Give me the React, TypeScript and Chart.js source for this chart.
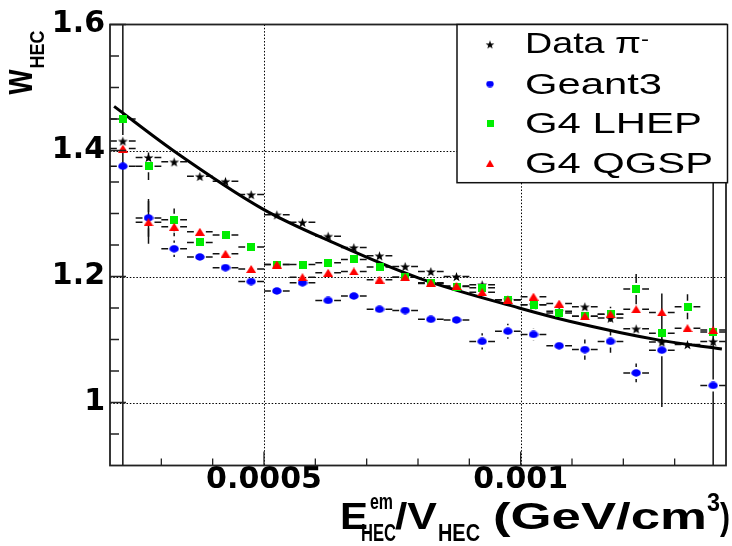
import React, { useEffect, useRef } from 'react';
import { Chart, registerables } from 'chart.js';

Chart.register(...registerables);

// ---- data ----
const binCenters = [
  0.000225, 0.000275, 0.000325, 0.000375, 0.000425, 0.000475, 0.000525, 0.000575,
  0.000625, 0.000675, 0.000725, 0.000775, 0.000825, 0.000875, 0.000925, 0.000975,
  0.001025, 0.001075, 0.001125, 0.001175, 0.001225, 0.001275, 0.001325, 0.001375,
];
const binHalfWidth = 0.000025;

const dataPi = [1.415, 1.389, 1.382, 1.359, 1.351, 1.33, 1.298, 1.286, 1.264, 1.246, 1.233, 1.216,
  1.208, 1.2, 1.187, 1.163, 1.155, 1.145, 1.152, 1.134, 1.117, 1.096, 1.092, 1.097];
const dataPiErr = [0.6, 0.005, 0.005, 0.005, 0.005, 0.005, 0.005, 0.005, 0.005, 0.005, 0.005, 0.005,
  0.005, 0.005, 0.005, 0.005, 0.005, 0.005, 0.006, 0.006, 0.006, 0.006, 0.006, 0.006];

const geant3 = [1.375, 1.293, 1.244, 1.231, 1.214, 1.192, 1.177, 1.19, 1.162, 1.169, 1.148, 1.146,
  1.132, 1.131, 1.097, 1.113, 1.108, 1.09, 1.084, 1.097, 1.047, 1.083, null, 1.027];
const geant3Err = [0.005, 0.03, 0.013, 0.005, 0.005, 0.005, 0.005, 0.005, 0.005, 0.005, 0.005, 0.005,
  0.005, 0.005, 0.013, 0.012, 0.01, 0.006, 0.016, 0.018, 0.015, 0.09, 0, 0.6];

const g4lhep = [1.45, 1.375, 1.29, 1.254, 1.266, 1.247, 1.219, 1.219, 1.222, 1.227, 1.215, 1.199,
  1.189, 1.184, 1.182, 1.163, 1.155, 1.142, 1.137, 1.14, 1.18, 1.11, 1.152, 1.112];
const g4lhepErr = [0.005, 0.022, 0.018, 0.005, 0.005, 0.005, 0.005, 0.005, 0.005, 0.005, 0.005, 0.005,
  0.005, 0.005, 0.008, 0.005, 0.005, 0.006, 0.006, 0.012, 0.024, 0.008, 0.02, 0.006];

const g4qgsp = [1.403, 1.286, 1.279, 1.271, 1.236, 1.212, 1.219, 1.199, 1.206, 1.208, 1.195, 1.199,
  1.19, 1.185, 1.175, 1.163, 1.168, 1.157, 1.137, 1.14, 1.148, 1.143, 1.118, 1.115];
const g4qgspErr = [0.005, 0.034, 0.015, 0.005, 0.005, 0.005, 0.005, 0.005, 0.005, 0.005, 0.005, 0.005,
  0.005, 0.005, 0.006, 0.005, 0.005, 0.006, 0.006, 0.006, 0.008, 0.006, 0.008, 0.006];

const fitX = [0.000208, 0.000323, 0.000498, 0.000634, 0.000803, 0.000997, 0.001095, 0.00127, 0.001392];
const fitY = [1.47, 1.4, 1.307, 1.254, 1.197, 1.15, 1.129, 1.099, 1.085];

const xTickValues = [0.0005, 0.001];
const xTickLabels = ['0.0005', '0.001'];
const yTickValues = [1, 1.2, 1.4, 1.6];
const yTickLabels = ['1', '1.2', '1.4', '1.6'];
const xMinorTicks = [0.0003, 0.0004, 0.0006, 0.0007, 0.0008, 0.0009, 0.0011, 0.0012, 0.0013];
const yMinorTicks = [0.95, 1.05, 1.1, 1.15, 1.25, 1.3, 1.35, 1.45, 1.5, 1.55];
const xGridValues = [0.0005, 0.001];
const yGridValues = [1, 1.2, 1.4];

const seriesNames = ['Data π', 'Geant3', 'G4 LHEP', 'G4 QGSP'];

// ---- marker images ----
function makeStar(outer: number, inner: number, color: string) {
  const s = Math.ceil(outer * 2) + 2;
  const c = document.createElement('canvas');
  c.width = s; c.height = s;
  const g = c.getContext('2d')!;
  g.fillStyle = color;
  g.beginPath();
  for (let i = 0; i < 10; i++) {
    const r = i % 2 === 0 ? outer : inner;
    const a = -Math.PI / 2 + (i * Math.PI) / 5;
    const px = s / 2 + r * Math.cos(a);
    const py = s / 2 + 0.6 + r * Math.sin(a);
    if (i === 0) g.moveTo(px, py); else g.lineTo(px, py);
  }
  g.closePath();
  g.fill();
  return c;
}
function makeEllipse(w: number, h: number, color: string) {
  const c = document.createElement('canvas');
  c.width = w; c.height = h;
  const g = c.getContext('2d')!;
  g.fillStyle = color;
  g.beginPath();
  g.ellipse(w / 2, h / 2, w / 2 - 0.3, h / 2 - 0.3, 0, 0, Math.PI * 2);
  g.fill();
  return c;
}
function makeSquare(w: number, h: number, color: string) {
  const c = document.createElement('canvas');
  c.width = w; c.height = h;
  const g = c.getContext('2d')!;
  g.fillStyle = color;
  g.fillRect(0, 0, w, h);
  return c;
}
function makeTriangle(w: number, h: number, color: string) {
  const c = document.createElement('canvas');
  c.width = w; c.height = h;
  const g = c.getContext('2d')!;
  g.fillStyle = color;
  g.beginPath();
  g.moveTo(w / 2, 0);
  g.lineTo(w, h);
  g.lineTo(0, h);
  g.closePath();
  g.fill();
  return c;
}

function fitText(ctx: CanvasRenderingContext2D, text: string, font: string, x0: number, x1: number, baseline: number) {
  ctx.font = font;
  const w = ctx.measureText(text).width;
  const sx = (x1 - x0) / w;
  ctx.save();
  ctx.translate(x0, baseline);
  ctx.scale(sx, 1);
  ctx.textAlign = 'left';
  ctx.textBaseline = 'alphabetic';
  ctx.fillText(text, 0, 0);
  ctx.restore();
}

export default function App() {
  const ref = useRef<HTMLCanvasElement>(null);

  useEffect(() => {
    const canvas = ref.current!;
    const BLUE = '#0000ff';
    const GREEN = '#00ee00';
    const RED = '#ff0000';

    const mStar = makeStar(5.2, 2.1, '#000');
    const mCircle = makeEllipse(10, 8, BLUE);
    const mSquare = makeSquare(8, 8, GREEN);
    const mTri = makeTriangle(10, 8, RED);
    const lStar = makeStar(4.6, 1.8, '#000');
    const lCircle = makeEllipse(8, 7, BLUE);
    const lSquare = makeSquare(7, 7, GREEN);
    const lTri = makeTriangle(8, 7, RED);

    const series = [
      { vals: dataPi, errs: dataPiErr },
      { vals: geant3, errs: geant3Err },
      { vals: g4lhep, errs: g4lhepErr },
      { vals: g4qgsp, errs: g4qgspErr },
    ];

    const toPts = (vals: (number | null)[]) =>
      binCenters
        .map((x, i) => (vals[i] == null ? null : { x, y: vals[i] as number }))
        .filter((p) => p !== null) as { x: number; y: number }[];

    const backgroundPlugin = {
      id: 'bg',
      beforeDraw(chart: any) {
        const { ctx } = chart;
        ctx.save();
        ctx.fillStyle = '#fff';
        ctx.fillRect(0, 0, chart.width, chart.height);
        ctx.restore();
      },
    };

    const underPlugin = {
      id: 'under',
      beforeDatasetsDraw(chart: any) {
        const { ctx, chartArea: a, scales } = chart;
        const xs = scales.x, ys = scales.y;
        ctx.save();
        ctx.beginPath();
        ctx.rect(a.left, a.top, a.right - a.left, a.bottom - a.top);
        ctx.clip();
        // dotted grid
        ctx.strokeStyle = '#000';
        ctx.lineWidth = 1;
        ctx.setLineDash([1.5, 1.8]);
        xGridValues.forEach((v) => {
          const px = Math.round(xs.getPixelForValue(v)) + 0.5;
          ctx.beginPath(); ctx.moveTo(px, a.top); ctx.lineTo(px, a.bottom); ctx.stroke();
        });
        yGridValues.forEach((v) => {
          const py = Math.round(ys.getPixelForValue(v)) + 0.5;
          ctx.beginPath(); ctx.moveTo(a.left, py); ctx.lineTo(a.right, py); ctx.stroke();
        });
        ctx.setLineDash([]);
        // error bars with a gap around the marker
        const gap = 6;
        ctx.strokeStyle = '#111';
        ctx.lineWidth = 1.5;
        series.forEach((s) => {
          s.vals.forEach((v, i) => {
            if (v == null) return;
            const px = xs.getPixelForValue(binCenters[i]);
            const py = ys.getPixelForValue(v);
            const hx = xs.getPixelForValue(binCenters[i] + binHalfWidth) - px;
            const up = py - ys.getPixelForValue(v + s.errs[i]);
            ctx.beginPath();
            ctx.moveTo(px - hx, py); ctx.lineTo(px - gap, py);
            ctx.moveTo(px + gap, py); ctx.lineTo(px + hx, py);
            if (up > gap) {
              ctx.moveTo(px, py - gap); ctx.lineTo(px, py - up);
              ctx.moveTo(px, py + gap); ctx.lineTo(px, py + up);
            }
            ctx.stroke();
          });
        });
        ctx.restore();
      },
    };

    const overPlugin = {
      id: 'over',
      afterDraw(chart: any) {
        const { ctx, chartArea: a, scales } = chart;
        const xs = scales.x, ys = scales.y;
        ctx.save();
        // ticks (inward)
        ctx.strokeStyle = '#222';
        ctx.lineWidth = 1.3;
        ctx.beginPath();
        yMinorTicks.forEach((v) => {
          const py = ys.getPixelForValue(v);
          ctx.moveTo(a.left, py); ctx.lineTo(a.left + 9, py);
        });
        yTickValues.forEach((v) => {
          const py = ys.getPixelForValue(v);
          ctx.moveTo(a.left, py); ctx.lineTo(a.left + 16, py);
        });
        xMinorTicks.forEach((v) => {
          const px = xs.getPixelForValue(v);
          ctx.moveTo(px, a.bottom); ctx.lineTo(px, a.bottom - 7);
        });
        xTickValues.forEach((v) => {
          const px = xs.getPixelForValue(v);
          ctx.moveTo(px, a.bottom); ctx.lineTo(px, a.bottom - 14);
        });
        ctx.stroke();
        // frame
        ctx.lineWidth = 1.8;
        ctx.strokeStyle = '#222';
        ctx.strokeRect(a.left, a.top, a.right - a.left, a.bottom - a.top);

        // legend
        const lx0 = 457, ly0 = 24.5, lx1 = 727.5, ly1 = 182.7;
        ctx.fillStyle = '#fff';
        ctx.fillRect(lx0, ly0, lx1 - lx0, ly1 - ly0);
        ctx.lineWidth = 1.5;
        ctx.strokeStyle = '#111';
        ctx.strokeRect(lx0, ly0, lx1 - lx0, ly1 - ly0);
        const rowsY = [44.3, 84, 123.3, 163.3];
        const legendMarkers = [lStar, lCircle, lSquare, lTri];
        legendMarkers.forEach((m, i) => {
          ctx.drawImage(m, 490 - m.width / 2, rowsY[i] - m.height / 2);
        });
        ctx.fillStyle = '#000';
        const lf = '29px "Liberation Sans", Arial, sans-serif';
        fitText(ctx, seriesNames[0], lf, 525, 641, 52.7);
        fitText(ctx, '-', '20px "Liberation Sans", Arial, sans-serif', 641, 649, 46);
        fitText(ctx, seriesNames[1], lf, 525, 662, 94);
        fitText(ctx, seriesNames[2], lf, 525, 702, 133.3);
        fitText(ctx, seriesNames[3], lf, 525, 713, 173.3);

        // x-axis title
        const B = (s: number) => `bold ${s}px "Liberation Sans", Arial, sans-serif`;
        fitText(ctx, 'E', B(37), 340, 368, 529);
        fitText(ctx, 'em', B(22), 370, 393, 509);
        fitText(ctx, 'HEC', B(24), 361, 396, 541);
        fitText(ctx, '/V', B(37), 395, 437, 529);
        fitText(ctx, 'HEC', B(24), 438, 480, 541);
        fitText(ctx, '(GeV/cm', B(37), 493, 707, 529);
        fitText(ctx, '3', B(26), 707, 720, 511);
        fitText(ctx, ')', B(37), 720, 730, 529);

        // y-axis title (rotated)
        ctx.save();
        ctx.translate(32, 94.5);
        ctx.rotate(-Math.PI / 2);
        ctx.scale(1, 1.4);
        ctx.font = B(30);
        let w = ctx.measureText('w').width;
        ctx.save(); ctx.scale(25 / w, 1); ctx.fillText('w', 0, 0); ctx.restore();
        ctx.font = B(15);
        w = ctx.measureText('HEC').width;
        ctx.save(); ctx.translate(26, 12 / 1.4); ctx.scale(38 / w, 1); ctx.fillText('HEC', 0, 0); ctx.restore();
        ctx.restore();

        ctx.restore();
      },
    };

    const tickFont = { family: '"DejaVu Sans", sans-serif', weight: 'bold' as const, size: 30, lineHeight: 1 };

    const chart = new Chart(canvas, {
      type: 'scatter',
      data: {
        datasets: [
          {
            label: seriesNames[0],
            data: toPts(dataPi),
            pointStyle: mStar as any,
            pointRadius: 5,
            showLine: false,
            order: 4,
          },
          {
            label: 'fit',
            data: fitX.map((x, i) => ({ x, y: fitY[i] })),
            showLine: true,
            borderColor: '#000',
            borderWidth: 3,
            pointRadius: 0,
            cubicInterpolationMode: 'monotone',
            fill: false,
            order: 3,
          } as any,
          {
            label: seriesNames[1],
            data: toPts(geant3),
            pointStyle: mCircle as any,
            pointRadius: 5,
            showLine: false,
            order: 2,
          },
          {
            label: seriesNames[2],
            data: toPts(g4lhep),
            pointStyle: mSquare as any,
            pointRadius: 5,
            showLine: false,
            order: 1,
          },
          {
            label: seriesNames[3],
            data: toPts(g4qgsp),
            pointStyle: mTri as any,
            pointRadius: 5,
            showLine: false,
            order: 0,
          },
        ],
      },
      options: {
        responsive: false,
        animation: false,
        devicePixelRatio: 1,
        events: [],
        layout: { padding: { left: 0, right: 5, top: 24.5, bottom: 0 } },
        plugins: { legend: { display: false }, tooltip: { enabled: false } },
        scales: {
          x: {
            type: 'linear',
            position: 'bottom',
            min: 0.0002,
            max: 0.0014,
            afterBuildTicks: (s: any) => {
              s.ticks = xTickValues.map((v) => ({ value: v }));
            },
            afterFit: (s: any) => {
              s.height = 80.5;
            },
            ticks: {
              callback: (_v: any, i: number) => xTickLabels[i],
              font: tickFont,
              color: '#000',
              padding: 0,
              autoSkip: false,
              maxRotation: 0,
            },
            grid: { display: false, drawTicks: false },
            border: { display: false },
          },
          y: {
            type: 'linear',
            min: 0.9,
            max: 1.6,
            afterBuildTicks: (s: any) => {
              s.ticks = yTickValues.map((v) => ({ value: v }));
            },
            afterFit: (s: any) => {
              s.width = 110;
            },
            ticks: {
              callback: (_v: any, i: number) => yTickLabels[i],
              font: tickFont,
              color: '#000',
              padding: 5,
            },
            grid: { display: false, drawTicks: false },
            border: { display: false },
          },
        },
      },
      plugins: [backgroundPlugin, underPlugin, overPlugin],
    } as any);

    return () => chart.destroy();
  }, []);

  return (
    <div style={{ position: 'absolute', left: 0, top: 0, width: 732, height: 546, background: '#fff' }}>
      <canvas ref={ref} width={732} height={546} style={{ display: 'block', width: 732, height: 546 }} />
    </div>
  );
}
